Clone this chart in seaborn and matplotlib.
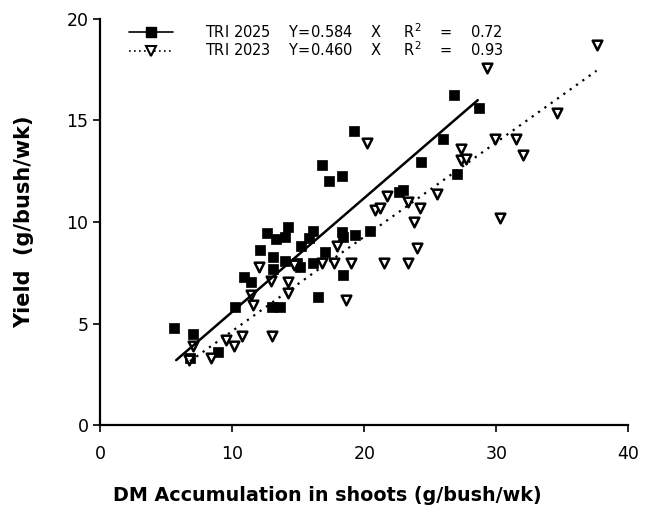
import matplotlib
matplotlib.use("Agg")
import matplotlib.pyplot as plt
from matplotlib.lines import Line2D
import seaborn as sns
import numpy as np

# TRI 2025 (filled squares)
dm_2025 = [5.6, 7.05, 6.8, 8.9, 10.2, 10.9, 11.4, 12.1, 12.6, 13.3, 13.1, 13.1, 13.0, 13.6,
           14.0, 14.2, 14.0, 14.9, 15.1, 15.2, 15.8, 16.1, 16.1, 16.5, 16.8, 17.0, 17.3,
           18.3, 18.3, 18.4, 18.4, 19.2, 19.3, 20.4, 22.6, 22.9, 24.3, 26.0, 26.8, 27.0, 28.7]
yield_2025 = [4.8, 4.5, 3.3, 3.6, 5.8, 7.3, 7.05, 8.6, 9.45, 9.15, 8.3, 7.7, 5.8, 5.8,
              9.25, 9.75, 8.1, 8.0, 7.8, 8.8, 9.2, 9.55, 8.0, 6.3, 12.8, 8.5, 12.0,
              12.25, 9.5, 9.25, 7.4, 14.5, 9.35, 9.55, 11.5, 11.6, 12.95, 14.1, 16.25, 12.35, 15.6]

# TRI 2023 (open triangles)
dm_2023 = [6.7, 7.05, 8.4, 9.5, 10.1, 10.7, 11.6, 11.4, 12.0, 12.9, 13.0, 14.2, 14.2, 14.7,
           16.8, 17.7, 17.9, 19.0, 18.6, 20.2, 20.8, 21.2, 21.5, 21.7, 23.3, 23.3, 23.8,
           24.0, 24.2, 25.5, 27.3, 27.3, 27.7, 29.3, 29.9, 30.3, 31.5, 32.0, 34.6, 37.6]
yield_2023 = [3.2, 3.9, 3.3, 4.2, 3.9, 4.4, 5.9, 6.4, 7.8, 7.1, 4.4, 6.5, 7.05, 7.9,
              8.0, 8.0, 8.8, 8.0, 6.15, 13.9, 10.6, 10.7, 8.0, 11.3, 8.0, 11.0, 10.0,
              8.7, 10.7, 11.4, 13.6, 13.05, 13.1, 17.6, 14.1, 10.2, 14.1, 13.3, 15.35, 18.7]

# fitted lines (end points as drawn)
fit_2025_x = [5.75, 28.6]
fit_2025_y = [3.2, 16.0]
fit_2023_x = [6.8, 37.6]
fit_2023_y = [3.15, 17.45]

labels = ["TRI 2025    Y=0.584    X     R$^2$    =    0.72",
          "TRI 2023    Y=0.460    X     R$^2$    =    0.93"]

sns.set_style("ticks")
plt.rcParams['font.family'] = ['DejaVu Sans']
plt.rcParams['text.color'] = "black"
plt.rcParams['axes.labelcolor'] = "black"

fig = plt.figure(figsize=(6.47, 5.11), dpi=100)
ax = fig.add_axes([0.155, 0.168, 0.816, 0.795])

sns.lineplot(x=fit_2025_x, y=fit_2025_y, ax=ax, color="black", linewidth=1.8)
sns.lineplot(x=fit_2023_x, y=fit_2023_y, ax=ax, color="black", linewidth=1.6,
             linestyle=(0, (1, 2.5)))
sns.scatterplot(x=dm_2025, y=yield_2025, ax=ax, marker="s", s=50, color="black",
                edgecolor="black", linewidth=0.5)
sns.scatterplot(x=dm_2023, y=yield_2023, ax=ax, marker="v", s=48, facecolor="white",
                edgecolor="black", linewidth=1.8)

ax.set_xlim(0, 40)
ax.set_ylim(0, 20)
ax.set_xticks([0, 10, 20, 30, 40])
ax.set_yticks([0, 5, 10, 15, 20])
ax.tick_params(axis="both", direction="out", length=5, width=1.2, labelsize=12.5,
               colors="black", labelcolor="black")
ax.tick_params(axis="x", pad=9)
for s in ["left", "bottom"]:
    ax.spines[s].set_linewidth(1.6)
    ax.spines[s].set_color("black")
sns.despine(ax=ax)

ax.set_xlabel("DM Accumulation in shoots (g/bush/wk)", fontsize=13.8, fontweight="bold")
ax.set_ylabel("Yield  (g/bush/wk)", fontsize=15, fontweight="bold")
ax.xaxis.set_label_coords(0.43, -0.15)
ax.yaxis.set_label_coords(-0.125, 0.5)

handles = [Line2D([], [], color="black", linewidth=1.2, marker="s", markersize=7),
           Line2D([], [], color="black", linewidth=1.2, linestyle=(0, (1, 2)), marker="v",
                  markersize=7, markerfacecolor="white", markeredgewidth=1.5)]
ax.legend(handles, labels, loc="upper left", bbox_to_anchor=(0.03, 1.025), frameon=False,
          numpoints=1, handlelength=3.0, handletextpad=2.2, fontsize=10.5, labelspacing=0.0)

fig.savefig("out.png", dpi=100)
